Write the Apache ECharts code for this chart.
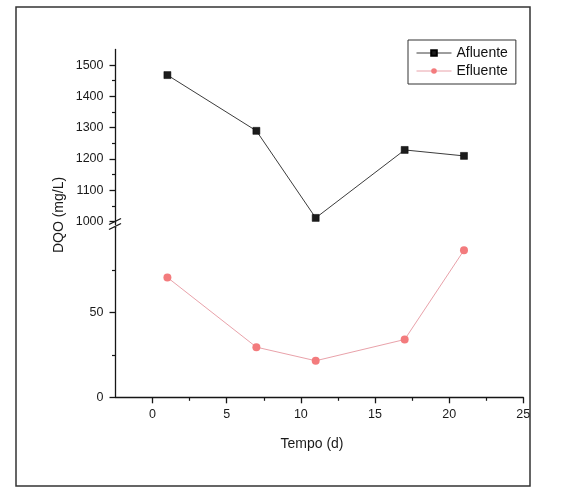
<!DOCTYPE html>
<html>
<head>
<meta charset="utf-8">
<script src="https://cdn.jsdelivr.net/npm/echarts@6/dist/echarts.min.js"></script>
<style>
  html, body { margin: 0; padding: 0; background: #fff; }
  #chart { width: 563px; height: 488px; }
</style>
</head>
<body>
<div id="chart"></div>
<script>
// data
const tempo = [1, 7, 11, 17, 21]
const afluente = [1468, 1290, 1012, 1229, 1210]
const efluente = [70.5, 29.5, 21.5, 34, 86.5]

const xTicks = [0, 5, 10, 15, 20, 25]
const xMinor = [2.5, 7.5, 12.5, 17.5, 22.5]
const yTicksTop = [1000, 1100, 1200, 1300, 1400, 1500]
const yMinorTop = [1050, 1150, 1250, 1350, 1450]
const yTicksLow = [0, 50]
const yMinorLow = [25, 75]

const FONT = 'Liberation Sans, Arial, Helvetica, sans-serif'
const AXIS = '#161616'

const plotLeft = 115.5
const plotWidth = 407.8

function pairs(xs, ys) {
  return xs.map((x, i) => [x, ys[i]])
}

const chart = echarts.init(document.getElementById('chart'))

const lbl = { fontFamily: FONT, fontSize: 12.5, color: '#1a1a1a', formatter: (v) => String(v) }
const hidden = { show: false }
const line = { show: true, onZero: false, lineStyle: { color: AXIS, width: 1.3 } }
const noLine = { show: false, onZero: false }

const option = {
  animation: false,
  backgroundColor: '#fff',
  grid: [
    { left: plotLeft, top: 49.4, width: plotWidth, height: 175.4, outerBoundsMode: 'none' },
    { left: plotLeft, top: 227.3, width: plotWidth, height: 170, outerBoundsMode: 'none' },
    // overlay grids only carry the minor ticks
    { left: plotLeft, top: 49.4, width: plotWidth, height: 175.4, outerBoundsMode: 'none' },
    { left: plotLeft, top: 227.3, width: plotWidth, height: 170, outerBoundsMode: 'none' }
  ],
  xAxis: [
    { type: 'value', gridIndex: 0, min: -2.5, max: 25, show: false },
    {
      type: 'value', gridIndex: 1, min: -2.5, max: 25,
      axisLine: line,
      axisTick: { customValues: xTicks, length: 6, lineStyle: { color: AXIS, width: 1.3 } },
      axisLabel: Object.assign({ customValues: xTicks, margin: 11 }, lbl),
      splitLine: hidden
    },
    {
      type: 'value', gridIndex: 3, min: -2.5, max: 25,
      axisLine: noLine, axisLabel: hidden, splitLine: hidden,
      axisTick: { customValues: xMinor, length: 3.5, lineStyle: { color: AXIS, width: 1.2 } }
    },
    { type: 'value', gridIndex: 2, min: -2.5, max: 25, show: false }
  ],
  yAxis: [
    {
      type: 'value', gridIndex: 0, min: 990, max: 1550,
      axisLine: line,
      axisTick: { show: true, customValues: yTicksTop, length: 6, lineStyle: { color: AXIS, width: 1.3 } },
      axisLabel: Object.assign({ customValues: yTicksTop, margin: 12 }, lbl),
      splitLine: hidden
    },
    {
      type: 'value', gridIndex: 1, min: 0, max: 100,
      axisLine: line,
      axisTick: { show: true, customValues: yTicksLow, length: 6, lineStyle: { color: AXIS, width: 1.3 } },
      axisLabel: Object.assign({ customValues: yTicksLow, margin: 12 }, lbl),
      splitLine: hidden
    },
    {
      type: 'value', gridIndex: 2, min: 990, max: 1550,
      axisLine: noLine, axisLabel: hidden, splitLine: hidden,
      axisTick: { show: true, customValues: yMinorTop, length: 3.5, lineStyle: { color: AXIS, width: 1.2 } }
    },
    {
      type: 'value', gridIndex: 3, min: 0, max: 100,
      axisLine: noLine, axisLabel: hidden, splitLine: hidden,
      axisTick: { show: true, customValues: yMinorLow, length: 3.5, lineStyle: { color: AXIS, width: 1.2 } }
    }
  ],
  legend: {
    orient: 'vertical',
    left: 408,
    top: 40,
    padding: [6, 8, 6, 8],
    itemGap: 4,
    itemWidth: 35,
    itemHeight: 7,
    borderColor: '#333',
    borderWidth: 1,
    borderRadius: 0,
    lineStyle: { width: 1 },
    textStyle: { fontFamily: FONT, fontSize: 14, color: '#111' },
    data: ['Afluente', 'Efluente']
  },
  series: [
    {
      name: 'Afluente',
      type: 'line',
      xAxisIndex: 0,
      yAxisIndex: 0,
      data: pairs(tempo, afluente),
      symbol: 'rect',
      symbolSize: 7,
      showAllSymbol: true,
      lineStyle: { color: '#3c3c3c', width: 1 },
      itemStyle: { color: '#1c1c1c', borderColor: '#000', borderWidth: 0.5 }
    },
    {
      name: 'Efluente',
      type: 'line',
      xAxisIndex: 1,
      yAxisIndex: 1,
      data: pairs(tempo, efluente),
      symbol: 'circle',
      symbolSize: 8,
      showAllSymbol: true,
      lineStyle: { color: '#e9a2aa', width: 1 },
      itemStyle: { color: '#f37b7d' }
    }
  ],
  graphic: [
    {
      type: 'rect',
      shape: { x: 16, y: 7, width: 514, height: 479 },
      style: { fill: null, stroke: '#333', lineWidth: 1.5 },
      silent: true
    },
    {
      type: 'line',
      shape: { x1: 109, y1: 224.5, x2: 121, y2: 218.5 },
      style: { stroke: AXIS, lineWidth: 1.3 }
    },
    {
      type: 'line',
      shape: { x1: 109, y1: 229.5, x2: 121, y2: 223.5 },
      style: { stroke: AXIS, lineWidth: 1.3 }
    },
    {
      type: 'text',
      x: 59,
      y: 215,
      rotation: Math.PI / 2,
      style: {
        text: 'DQO (mg/L)',
        fontFamily: FONT,
        fontSize: 14,
        fill: '#1a1a1a',
        align: 'center',
        verticalAlign: 'middle'
      }
    },
    {
      type: 'text',
      x: 312,
      y: 444,
      style: {
        text: 'Tempo (d)',
        fontFamily: FONT,
        fontSize: 14,
        fill: '#1a1a1a',
        align: 'center',
        verticalAlign: 'middle'
      }
    }
  ]
}

chart.setOption(option)
</script>
</body>
</html>
